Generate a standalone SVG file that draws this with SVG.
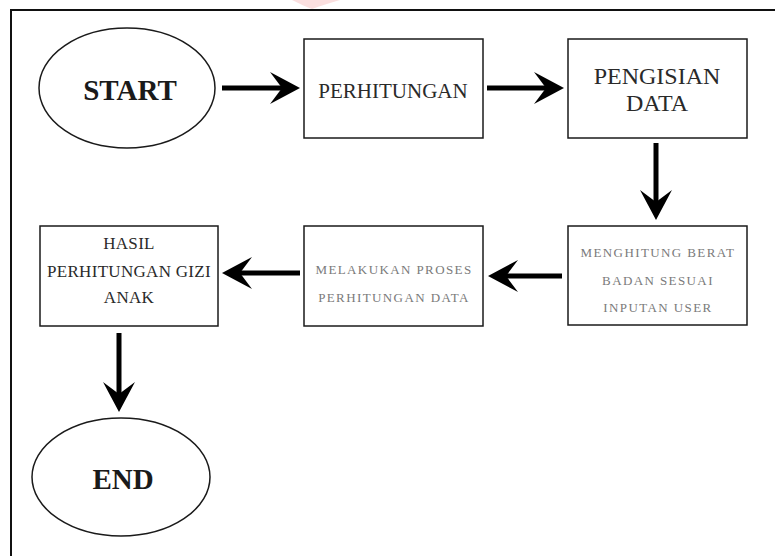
<svg xmlns="http://www.w3.org/2000/svg" width="775" height="556" viewBox="0 0 775 556">
  <style>
    .shape { fill: #ffffff; stroke: #1a1a1a; stroke-width: 1.5; }
    .frame { fill: none; stroke: #111111; stroke-width: 2; }
    .conn { stroke: #000000; stroke-width: 5; fill: none; }
    .t { font-family: "Liberation Serif", "Times New Roman", serif; text-anchor: middle; fill: #2a2a2a; }
    .big { font-size: 29px; font-weight: bold; fill: #1a1a1a; }
    .mid { font-size: 21px; }
    .lg { font-size: 24px; }
    .sm { font-size: 17px; letter-spacing: 0.3px; }
    .gray { font-size: 13px; letter-spacing: 1.4px; fill: #7a7a7a; }
  </style>
  <defs>
    <marker id="ah" viewBox="0 0 30 32" refX="15" refY="16" markerWidth="30" markerHeight="32" markerUnits="userSpaceOnUse" orient="auto">
      <path d="M0,0 L30,16 L0,32 L12,16 Z" fill="#000000"/>
    </marker>
  </defs>
  <rect width="775" height="556" fill="#ffffff"/>
  <path d="M292,0 C300,4 306,7 312,9 C320,6 330,3 340,0 Z" fill="#f7c9c9" opacity="0.6"/>
  <path class="frame" d="M11,556 L11,10 L775,10"/>

  <g id="start">
    <ellipse class="shape" cx="127" cy="88" rx="88" ry="60"/>
    <text class="t big" x="130" y="100">START</text>
  </g>
  <g id="perhitungan">
    <rect class="shape" x="304" y="39" width="179" height="99"/>
    <text class="t mid" x="393" y="98">PERHITUNGAN</text>
  </g>
  <g id="pengisian">
    <rect class="shape" x="568" y="39" width="179" height="99"/>
    <text class="t lg" x="657" y="84">PENGISIAN</text>
    <text class="t lg" x="657" y="111">DATA</text>
  </g>
  <g id="menghitung">
    <rect class="shape" x="568" y="226" width="179" height="99"/>
    <text class="t gray" x="658" y="257">MENGHITUNG BERAT</text>
    <text class="t gray" x="658" y="285">BADAN SESUAI</text>
    <text class="t gray" x="658" y="312">INPUTAN USER</text>
  </g>
  <g id="melakukan">
    <rect class="shape" x="304" y="226" width="179" height="100"/>
    <text class="t gray" x="394" y="274">MELAKUKAN PROSES</text>
    <text class="t gray" x="394" y="302">PERHITUNGAN DATA</text>
  </g>
  <g id="hasil">
    <rect class="shape" x="40" y="226" width="178" height="100"/>
    <text class="t sm" x="129" y="249">HASIL</text>
    <text class="t sm" x="129" y="277">PERHITUNGAN GIZI</text>
    <text class="t sm" x="129" y="303">ANAK</text>
  </g>
  <g id="end">
    <ellipse class="shape" cx="121" cy="477" rx="89" ry="59"/>
    <text class="t big" x="123" y="489">END</text>
  </g>

  <g id="connectors">
    <line class="conn" x1="222" y1="88" x2="285" y2="88" marker-end="url(#ah)"/>
    <line class="conn" x1="487" y1="88" x2="549" y2="88" marker-end="url(#ah)"/>
    <line class="conn" x1="656" y1="143" x2="656" y2="205" marker-end="url(#ah)"/>
    <line class="conn" x1="562" y1="276" x2="503" y2="276" marker-end="url(#ah)"/>
    <line class="conn" x1="300" y1="273" x2="237" y2="273" marker-end="url(#ah)"/>
    <line class="conn" x1="119" y1="333" x2="119" y2="397" marker-end="url(#ah)"/>
  </g>
</svg>
